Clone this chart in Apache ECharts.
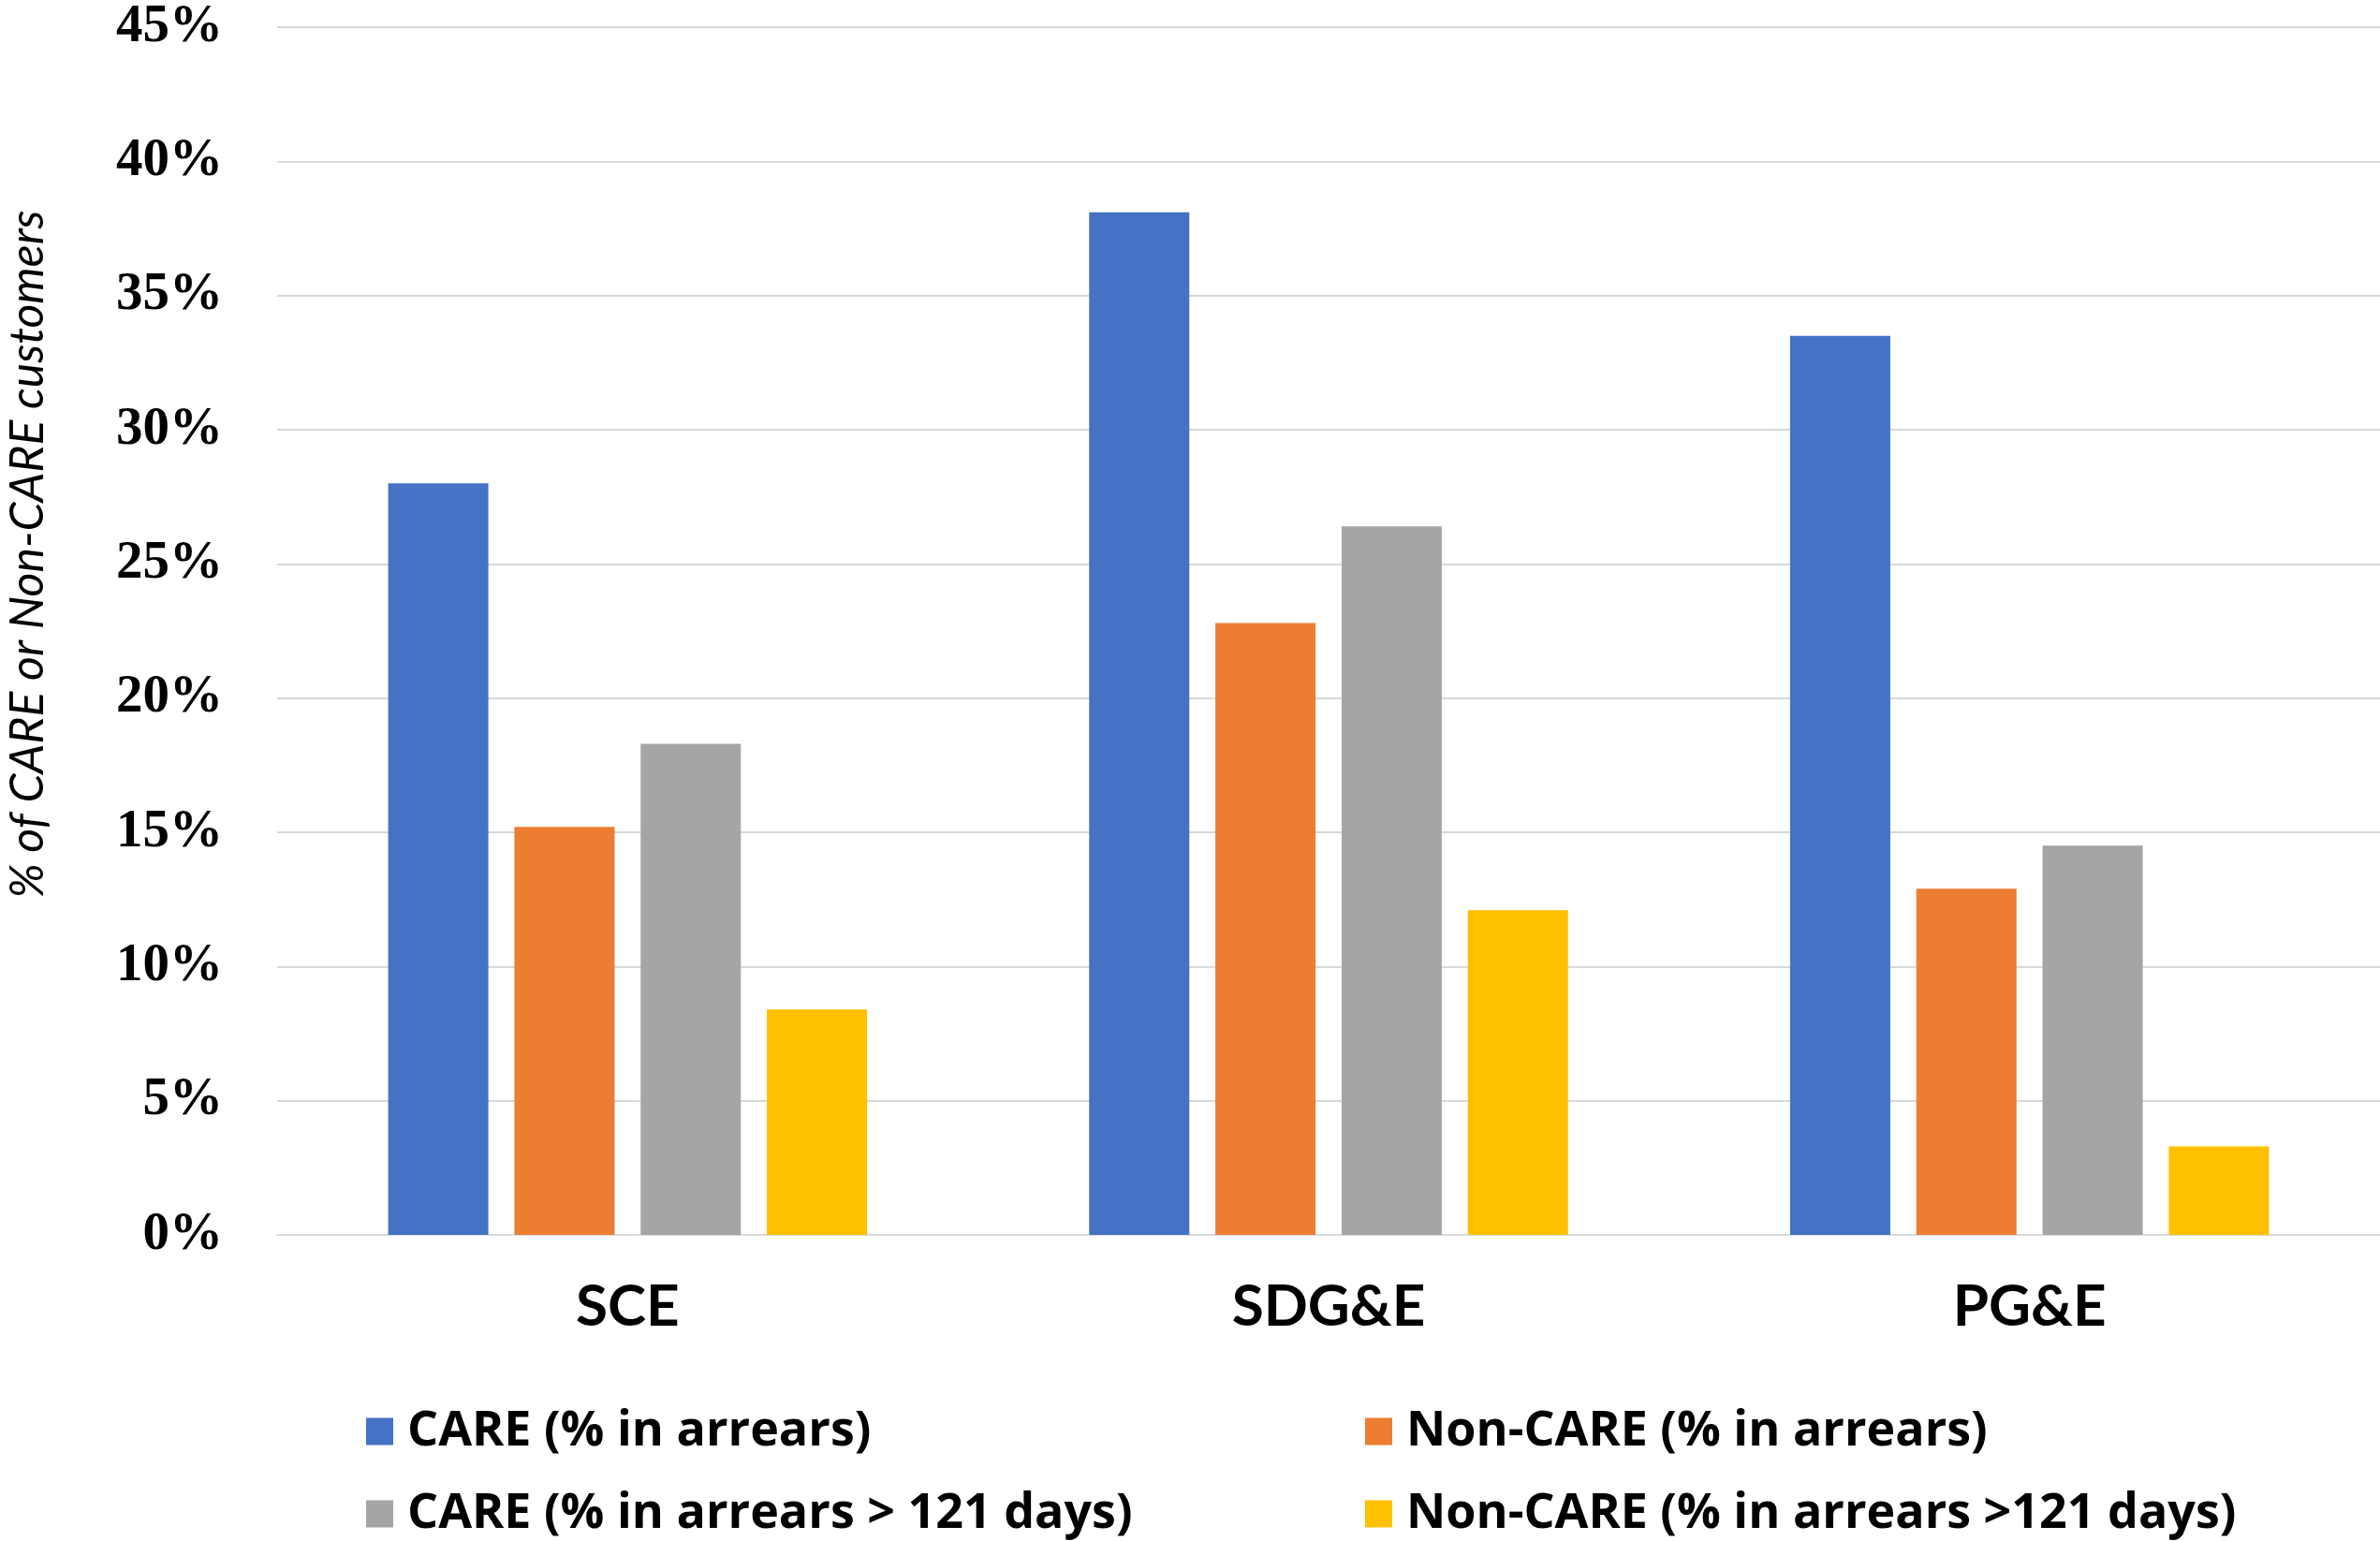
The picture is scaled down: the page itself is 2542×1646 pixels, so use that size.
<!DOCTYPE html>
<html>
<head>
<meta charset="utf-8">
<script src="https://cdn.jsdelivr.net/npm/echarts@6/dist/echarts.min.js"></script>
<style>
    html, body { margin: 0; padding: 0; background: #fff; }
    #chart { width: 2542px; height: 1646px; }
</style>
</head>
<body>
<div id="chart"></div>
<script>
// ======================
// DATA
// ======================

const utilities = ['SCE', 'SDG&E', 'PG&E'];
const seriesNames = [
    'CARE (% in arrears)',
    'Non-CARE (% in arrears)',
    'CARE (% in arrears > 121 days)',
    'Non-CARE (% in arrears >121 days)'
];
const careArrears = [28.0, 38.1, 33.5];
const nonCareArrears = [15.2, 22.8, 12.9];
const careArrears121 = [18.3, 26.4, 14.5];
const nonCareArrears121 = [8.4, 12.1, 3.3];
const yTicks = [0, 5, 10, 15, 20, 25, 30, 35, 40, 45];
const yTitle = '% of CARE or Non-CARE customers';

const seriesValues = [careArrears, nonCareArrears, careArrears121, nonCareArrears121];
const colors = ['#4472C4', '#ED7D31', '#A5A5A5', '#FFC000'];

// ======================
// CHART
// ======================

const chart = echarts.init(document.getElementById('chart'), null, { renderer: 'canvas' });

const sansFont = 'Lato, "Open Sans", sans-serif';

// legend slots: [left, top] per series (2 x 2 layout)
const legendSlots = [
    [391, 1503],
    [1458, 1503],
    [391, 1591],
    [1458, 1591]
];

const legends = seriesNames.map((name, i) => ({
    data: [name],
    left: legendSlots[i][0],
    top: legendSlots[i][1],
    padding: 0,
    icon: 'rect',
    itemWidth: 29,
    itemHeight: 29,
    textStyle: {
        fontFamily: '"Open Sans", Lato, sans-serif',
        fontWeight: 'bold',
        fontSize: 52,
        color: '#000',
        padding: [0, 0, 0, 10]
    }
}));

const option = {
    animation: false,
    backgroundColor: '#fff',
    color: colors,
    grid: {
        left: 296,
        right: 0,
        top: 29,
        bottom: 327,
        containLabel: false
    },
    legend: legends,
    graphic: [{
        type: 'text',
        x: 30,
        y: 592,
        rotation: Math.PI / 2,
        style: {
            text: yTitle,
            fontFamily: sansFont,
            fontStyle: 'italic',
            fontWeight: 'normal',
            fontSize: 50,
            fill: '#000',
            textAlign: 'center',
            textVerticalAlign: 'middle'
        }
    }],
    xAxis: {
        type: 'category',
        data: utilities,
        axisTick: { show: false },
        axisLine: { lineStyle: { color: '#D9D9D9', width: 2 } },
        axisLabel: {
            margin: 46,
            fontFamily: sansFont,
            fontWeight: 'bold',
            fontSize: 62,
            color: '#000'
        }
    },
    yAxis: {
        type: 'value',
        min: yTicks[0],
        max: yTicks[yTicks.length - 1],
        interval: 5,
        axisLine: { show: false },
        axisTick: { show: false },
        splitLine: { lineStyle: { color: '#D9D9D9', width: 2 } },
        axisLabel: {
            margin: 58,
            formatter: '{value}%',
            fontFamily: '"Liberation Serif", serif',
            fontWeight: 'bold',
            fontSize: 57,
            color: '#000'
        }
    },
    series: seriesNames.map((name, i) => ({
        name: name,
        type: 'bar',
        data: seriesValues[i],
        barWidth: 107,
        barGap: '26%',
        itemStyle: { color: colors[i] }
    }))
};

chart.setOption(option);
</script>
</body>
</html>
